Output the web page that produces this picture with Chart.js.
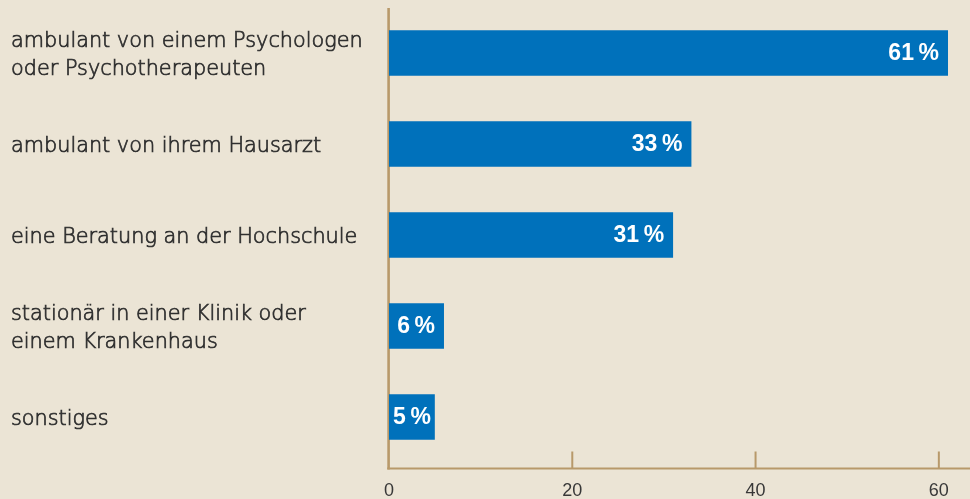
<!DOCTYPE html>
<html>
<head>
<meta charset="utf-8">
<script src="https://cdn.jsdelivr.net/npm/chart.js@4"></script>
<style>
    html, body { margin: 0; padding: 0; background: #ebe4d5; }
    #wrap { width: 970px; height: 499px; position: relative; }
</style>
</head>
<body>
<div id="wrap"><canvas id="chart"></canvas></div>
<script>
const categories = [
    ['ambulant von einem Psychologen', 'oder Psychotherapeuten'],
    'ambulant von ihrem Hausarzt',
    'eine Beratung an der Hochschule',
    ['stationär in einer Klinik oder', 'einem Krankenhaus'],
    'sonstiges'
];
const shares = [61, 33, 31, 6, 5];
const xTicks = [0, 20, 40, 60];
const xMax = 63.4;

const AXIS_COLOR = '#b8996a';
const BAR_COLOR = '#0071bb';
const TEXT_COLOR = '#2f2f2f';

// axis lines + upward tick marks, drawn behind the bars
const axisLines = {
    id: 'axisLines',
    beforeDatasetsDraw(chart) {
        const { ctx, chartArea: a, scales: { x } } = chart;
        const base = x.getPixelForValue(0);
        const yLine = a.bottom + 6;
        ctx.save();
        ctx.strokeStyle = AXIS_COLOR;
        ctx.lineWidth = 2.6;
        ctx.beginPath();
        ctx.moveTo(base - 0.4, a.top + 0.5);
        ctx.lineTo(base - 0.4, yLine + 1);
        ctx.stroke();

        ctx.lineWidth = 2;
        ctx.beginPath();
        ctx.moveTo(base - 1.7, yLine);
        ctx.lineTo(a.right, yLine);
        xTicks.slice(1).forEach(v => {
            const px = x.getPixelForValue(v);
            ctx.moveTo(px, yLine);
            ctx.lineTo(px, yLine - 17);
        });
        ctx.stroke();
        ctx.restore();
    }
};

// percentage labels inside the bar ends
const barLabels = {
    id: 'barLabels',
    afterDatasetsDraw(chart) {
        const { ctx } = chart;
        const meta = chart.getDatasetMeta(0);
        ctx.save();
        ctx.font = 'bold 23px "Liberation Sans", Arial, sans-serif';
        ctx.fillStyle = '#ffffff';
        ctx.textAlign = 'right';
        ctx.textBaseline = 'middle';
        meta.data.forEach((bar, i) => {
            const txt = shares[i] + '\u2009%';
            const w = ctx.measureText(txt).width;
            let right = bar.x - 9;
            if (right - w < bar.base + 4) right = bar.base + 4 + w;
            ctx.fillText(txt, right, bar.y + 1);
        });
        ctx.restore();
    }
};

new Chart(document.getElementById('chart'), {
    type: 'bar',
    data: {
        labels: categories,
        datasets: [{
            data: shares,
            backgroundColor: BAR_COLOR,
            borderWidth: 0,
            barPercentage: 0.5,
            categoryPercentage: 1.0
        }]
    },
    options: {
        indexAxis: 'y',
        responsive: true,
        maintainAspectRatio: false,
        animation: false,
        devicePixelRatio: 1,
        layout: { padding: { left: 11, top: 7.5, right: 0, bottom: 0 } },
        plugins: {
            legend: { display: false },
            tooltip: { enabled: false }
        },
        scales: {
            y: {
                grid: { display: false, drawTicks: false },
                border: { display: false },
                ticks: {
                    color: TEXT_COLOR,
                    textStrokeColor: TEXT_COLOR,
                    textStrokeWidth: 0.7,
                    crossAlign: 'far',
                    padding: 0,
                    labelOffset: 2.5,
                    font: { family: '"DejaVu Sans", sans-serif', size: 20.8, weight: 200, lineHeight: 1.35 }
                },
                afterFit(s) {
                    s.width = 378;
                    s.paddingTop = 0;
                    s.paddingBottom = 0;
                }
            },
            x: {
                min: 0,
                max: xMax,
                grid: { display: false, drawTicks: false },
                border: { display: false },
                ticks: {
                    color: '#383838',
                    padding: 18,
                    font: { family: '"Liberation Sans", Arial, sans-serif', size: 18 }
                },
                afterBuildTicks(s) { s.ticks = xTicks.map(v => ({ value: v })); },
                afterFit(s) {
                    s.height = 36.5;
                    s.paddingLeft = 0;
                    s.paddingRight = 0;
                }
            }
        }
    },
    plugins: [axisLines, barLabels]
});
</script>
</body>
</html>
